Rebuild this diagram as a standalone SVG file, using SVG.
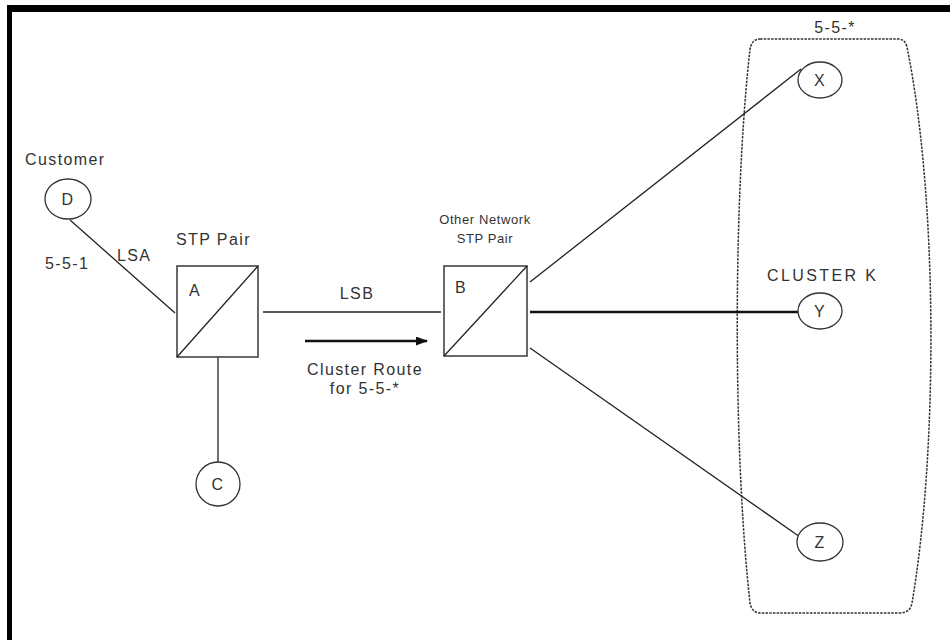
<svg xmlns="http://www.w3.org/2000/svg" width="950" height="640" viewBox="0 0 950 640">
<defs>
<style>
text{font-family:"Liberation Sans",Arial,sans-serif;fill:#333;font-size:16px;letter-spacing:1.4px}
.sm{font-size:13px;letter-spacing:0.6px}
.node{fill:#fff;stroke:#333;stroke-width:1.3}
.box{fill:#fff;stroke:#444;stroke-width:1.6}
.ln{stroke:#222;stroke-width:1.3;fill:none}
.thick{stroke:#111;stroke-width:2.6;fill:none}
</style>
<marker id="ah" markerWidth="12" markerHeight="9" refX="11" refY="4.5" orient="auto" markerUnits="userSpaceOnUse">
<path d="M0,0 L12,4.5 L0,9 Z" fill="#111"/>
</marker>
</defs>
<rect width="950" height="640" fill="#fff"/>
<rect x="7" y="5" width="943" height="7" fill="#000"/>
<rect x="7" y="5" width="5" height="635" fill="#000"/>

<g id="cluster">
<path d="M760 39 L898 39 Q905 39 907 47 C938 200 938 450 912 603 Q910 613 900 613 L760 613 Q752 613 750 603 C733 450 733 200 750 49 Q752 39 760 39 Z" fill="none" stroke="#333" stroke-width="1.5" stroke-dasharray="2.5,1.2"/>
<text x="835" y="33" text-anchor="middle">5-5-*</text>
<text x="767" y="281" style="letter-spacing:2.4px">CLUSTER  K</text>
</g>

<g id="connectors">
<line class="ln" x1="70" y1="220" x2="175" y2="313"/>
<line class="ln" x1="263" y1="312" x2="441" y2="312"/>
<line class="ln" x1="218" y1="357" x2="218" y2="462"/>
<line class="ln" x1="530" y1="282" x2="801" y2="69"/>
<line class="thick" x1="530" y1="312" x2="798" y2="312"/>
<line class="ln" x1="530" y1="348" x2="800" y2="537"/>
<line x1="305" y1="341" x2="427" y2="341" stroke="#111" stroke-width="2.6" marker-end="url(#ah)"/>
<text x="117" y="261">LSA</text>
<text x="45" y="269">5-5-1</text>
<text x="357" y="299" text-anchor="middle">LSB</text>
<text x="365" y="375" text-anchor="middle">Cluster Route</text>
<text x="365" y="394" text-anchor="middle">for 5-5-*</text>
</g>

<g id="D">
<text x="25" y="165">Customer</text>
<ellipse class="node" cx="68" cy="199" rx="23" ry="20"/>
<text x="68" y="205" text-anchor="middle">D</text>
</g>

<g id="A">
<text x="176" y="245">STP Pair</text>
<rect class="box" x="177" y="266" width="81" height="91"/>
<line class="ln" x1="177" y1="357" x2="258" y2="266"/>
<text x="189" y="296">A</text>
</g>

<g id="C">
<ellipse class="node" cx="218" cy="484" rx="22" ry="22"/>
<text x="218" y="490" text-anchor="middle">C</text>
</g>

<g id="B">
<text class="sm" x="485" y="224" text-anchor="middle">Other Network</text>
<text class="sm" x="485" y="243" text-anchor="middle">STP Pair</text>
<rect class="box" x="444" y="266" width="83" height="90"/>
<line class="ln" x1="444" y1="356" x2="527" y2="266"/>
<text x="455" y="293">B</text>
</g>

<g id="X">
<ellipse class="node" cx="820" cy="80" rx="22" ry="18"/>
<text x="820" y="86" text-anchor="middle">X</text>
</g>

<g id="Y">
<ellipse class="node" cx="820" cy="311" rx="22" ry="18"/>
<text x="820" y="317" text-anchor="middle">Y</text>
</g>

<g id="Z">
<ellipse class="node" cx="820" cy="542" rx="23" ry="19"/>
<text x="820" y="548" text-anchor="middle">Z</text>
</g>
</svg>
